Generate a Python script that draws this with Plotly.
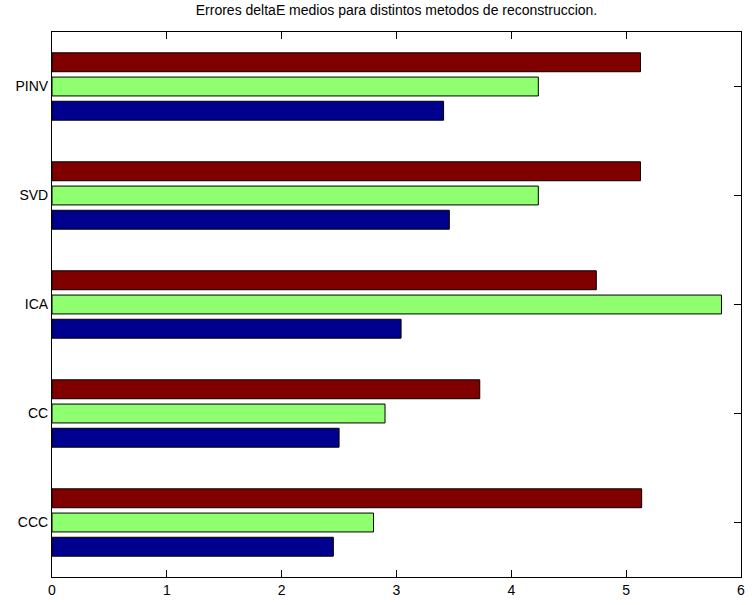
import plotly.graph_objects as go

# Reconstruction methods (bottom to top) and mean deltaE error per series
methods = ["CCC", "CC", "ICA", "SVD", "PINV"]
positions = [1, 2, 3, 4, 5]
serie_azul = [2.45, 2.50, 3.04, 3.46, 3.41]
serie_verde = [2.80, 2.90, 5.83, 4.235, 4.235]
serie_roja = [5.135, 3.725, 4.74, 5.125, 5.125]

x_ticks = [0, 1, 2, 3, 4, 5, 6]

colores = ["#00008F", "#8FFF70", "#800000"]

fig = go.Figure()
for valores, color in zip([serie_azul, serie_verde, serie_roja], colores):
    fig.add_trace(go.Bar(
        x=valores, y=positions, orientation="h",
        marker=dict(color=color, line=dict(color="black", width=1)),
        showlegend=False,
    ))

axis_common = dict(
    showline=True, linecolor="black", linewidth=1, mirror="ticks",
    ticks="inside", ticklen=7, tickcolor="black", tickwidth=1,
    showgrid=False, zeroline=False, layer="below traces",
    tickfont=dict(family="Liberation Sans, Arial, sans-serif", size=14, color="black"),
)

fig.update_layout(
    width=752, height=605,
    margin=dict(l=52, r=7, t=32, b=25),
    paper_bgcolor="white", plot_bgcolor="white",
    barmode="group", bargap=0.333, bargroupgap=0.22,
    title=dict(
        text="Errores deltaE medios para distintos metodos de reconstruccion.",
        x=0.5, xref="paper", xanchor="center", y=1, yref="container",
        yanchor="top", pad=dict(t=5),
        font=dict(family="Liberation Sans, Arial, sans-serif", size=14, color="black"),
    ),
    xaxis=dict(range=[0, 6], tickvals=x_ticks, ticktext=[str(t) for t in x_ticks], **axis_common),
    yaxis=dict(range=[0.5, 5.5], tickvals=positions, ticktext=methods, **axis_common),
)

fig.write_html("out.html")
